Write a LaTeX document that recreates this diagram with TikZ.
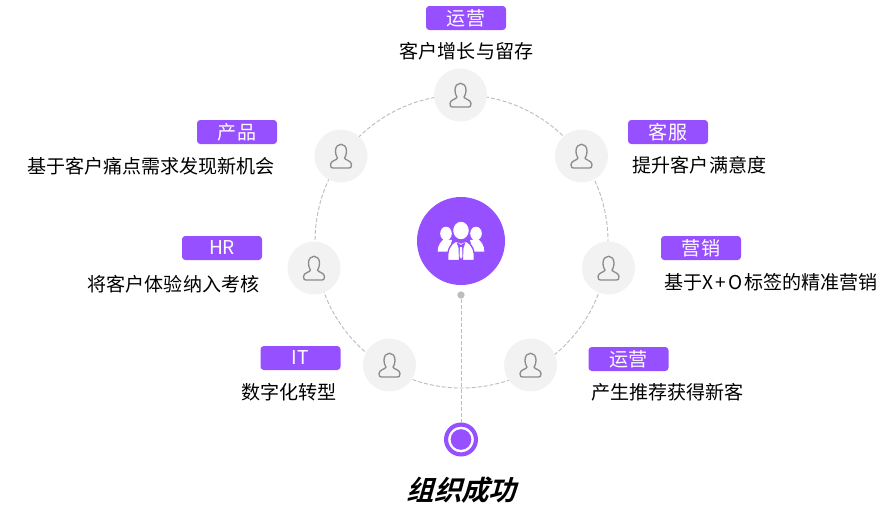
\documentclass[tikz,border=0pt]{standalone}
\usepackage{fontspec}
\setmainfont{Noto Sans CJK SC}
\newfontfamily\cjkb[UprightFont=* Bold,FakeSlant=0.28]{Noto Sans CJK SC}
\definecolor{vio}{HTML}{9650FF}
\definecolor{soft}{HTML}{F2F2F2}
\definecolor{ringc}{HTML}{BDBDBD}
\definecolor{iconc}{HTML}{8C8C8C}
\tikzset{
  x=0.75pt,y=-0.75pt,
  person/.style={circle,fill=soft,minimum size=39.75pt,inner sep=0pt},
  tagbox/.style={fill=vio,text=white,rounded corners=2.5pt,minimum width=60pt,minimum height=18pt,inner sep=0pt,font=\fontsize{14.3}{14.3}\selectfont},
  captext/.style={text=black,inner sep=0pt,font=\fontsize{14.3}{14.3}\selectfont},
  dashline/.style={ringc,line width=0.7pt,dash pattern=on 3pt off 1.5pt},
  usericon/.pic={
    \draw[iconc,line width=1pt,line join=round]
      (-5.5,-5) .. controls (-5.5,-14) and (5.5,-14) .. (5.5,-5)
      .. controls (5.5,-1) and (4,1) .. (3.5,2)
      .. controls (3.5,4) and (10.5,4.5) .. (10.5,8.5)
      .. controls (10.5,11.5) and (9.5,12) .. (8,12)
      -- (-8,12)
      .. controls (-9.5,12) and (-10.5,11.5) .. (-10.5,8.5)
      .. controls (-10.5,4.5) and (-3.5,4) .. (-3.5,2)
      .. controls (-4,1) and (-5.5,-1) .. (-5.5,-5) -- cycle;
  }
}
\begin{document}
\begin{tikzpicture}
\useasboundingbox (0,0) rectangle (889,522);
% ring
\draw[dashline] (461.5,241.5) circle[radius=146.5];
% person nodes
\node[person] (p1) at (460.5,95) {};
\node[person] (p2) at (581.5,156) {};
\node[person] (p3) at (608.5,268) {};
\node[person] (p4) at (530.5,365) {};
\node[person] (p5) at (389.5,365) {};
\node[person] (p6) at (314,268) {};
\node[person] (p7) at (341,156) {};
\foreach \n in {p1,p2,p3,p4,p5,p6,p7} \path (\n) pic {usericon};
% centre
\node[circle,fill=vio,minimum size=66pt,inner sep=0pt] (hub) at (461,241) {};
\fill[white] (446,233.5) ellipse[x radius=5.8,y radius=6.8];
\fill[white] (476,233.5) ellipse[x radius=5.8,y radius=6.8];
\fill[white] (437.7,251.5) .. controls (437.7,245) and (441,241.5) .. (444,239) -- (452,240) -- (449,251.5) -- cycle;
\fill[white] (484.3,251.5) .. controls (484.3,245) and (481,241.5) .. (478,239) -- (470,240) -- (473,251.5) -- cycle;
\draw[vio,line width=1pt,fill=white] (461,230.5) ellipse[x radius=8.5,y radius=9.5];
\draw[vio,line width=1pt,fill=white] (447.7,260.5) .. controls (447,250) and (450,244) .. (456,241) -- (461,243) -- (466,241) .. controls (472,244) and (475,250) .. (474.3,260.5) -- cycle;
\fill[vio] (456.5,242) -- (461,245) -- (465.5,242) -- (463.5,248) -- (463,260) -- (459,260) -- (458.5,248) -- cycle;
\fill[white] (460,247) -- (462,247) -- (462.5,256) -- (461,259) -- (459.5,256) -- cycle;
% trunk
\node[circle,fill=ringc,minimum size=5.5pt,inner sep=0pt] (dot) at (461,295) {};
\node[circle,fill=white,draw=vio,line width=3.1pt,minimum size=22.4pt,inner sep=0pt] (goal) at (461,439.5) {};
\node[circle,fill=vio,minimum size=15.5pt,inner sep=0pt] (goalc) at (goal) {};
\draw[dashline] (dot) -- (goal);
% tags
\node[tagbox] (t1) at (466,18) {运营};
\node[tagbox] (t2) at (668,132) {客服};
\node[tagbox] (t3) at (701,248) {营销};
\node[tagbox] (t4) at (628.5,359) {运营};
\node[tagbox] (t5) at (300.5,358) {IT};
\node[tagbox] (t6) at (222,248) {HR};
\node[tagbox] (t7) at (237,132) {产品};
% captions
\node[captext] (c1) at (466.5,51) {客户增长与留存};
\node[captext] (c2) at (699.5,165) {提升客户满意度};
\node[captext] (c3) at (771,282) {基于X\kern1.5pt+\kern1.5pt O\kern1.5pt 标签的精准营销};
\node[captext] (c4) at (667.5,392) {产生推荐获得新客};
\node[captext] (c5) at (289,392) {数字化转型};
\node[captext] (c6) at (173.5,284) {将客户体验纳入考核};
\node[captext] (c7) at (151,166) {基于客户痛点需求发现新机会};
\node[text=black,inner sep=0pt,font=\cjkb\fontsize{20.6}{20.6}\selectfont] (goalt) at (461.5,490) {组织成功};
\end{tikzpicture}
\end{document}
